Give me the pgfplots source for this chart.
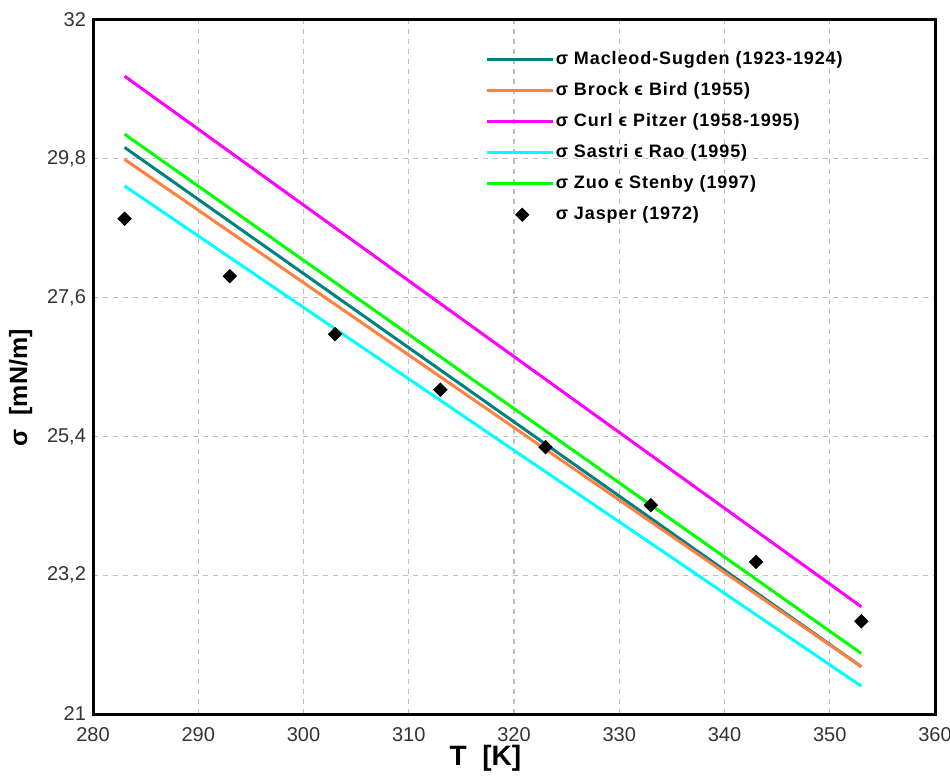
\documentclass[border=0pt]{standalone}
\usepackage{fontspec}
\setmainfont{Liberation Sans}
\usepackage{pgfplots}
\pgfplotsset{compat=1.18}

\definecolor{msteal}{RGB}{0,128,128}
\definecolor{bborange}{RGB}{255,128,64}
\definecolor{cpmagenta}{RGB}{255,0,255}
\definecolor{srcyan}{RGB}{0,255,255}
\definecolor{zsgreen}{RGB}{0,255,0}

\pgfplotsset{
  linelegend/.style={legend image code/.code={\draw[##1, line width=1.5pt] (0pt,0pt) -- (33pt,0pt);}},
  marklegend/.style={legend image code/.code={\path[draw=none, fill=none] (0pt,0pt) -- (33pt,0pt);
      \fill[black] (17.5pt,3.3pt) -- (20.8pt,0pt) -- (17.5pt,-3.3pt) -- (14.2pt,0pt) -- cycle;}},
}

\begin{document}
\begin{tikzpicture}
\begin{axis}[
  scale only axis, width=421pt, height=347pt,
  xmin=280, xmax=360, ymin=21, ymax=32,
  xtick={280,290,...,360},
  ytick={21,23.2,25.4,27.6,29.8,32},
  yticklabels={21,{23,2},{25,4},{27,6},{29,8},32},
  /pgf/number format/assume math mode=true,
  ticklabel style={font=\fontsize{10}{12}\selectfont, text=black!80},
  xticklabel style={yshift=-3pt},
  major tick length=0pt,
  axis line style={line width=1.5pt},
  grid=major,
  grid style={gray!50, dash pattern=on 2.5pt off 2.5pt, line width=0.6pt},
  xlabel={T~~[K]}, ylabel={σ~~[mN/m]},
  xlabel style={font=\bfseries\fontsize{14}{16}\selectfont, at={(axis description cs:0.466,-0.064)}, anchor=center},
  ylabel style={font=\bfseries\fontsize{12.5}{14}\selectfont, at={(axis description cs:-0.086,0.47)}, anchor=center},
  legend style={draw=none, fill=none, at={(axis description cs:0.466,0.957)}, anchor=north west,
    font=\bfseries\fontsize{9}{11}\selectfont\addfontfeatures{LetterSpace=5},
    row sep=6pt, inner sep=0pt,
    nodes={inner sep=0.5pt, text height=6.5pt, text depth=2pt}},
  legend cell align=left,
  linelegend,
]
\addplot[msteal, line width=1.5pt] coordinates {(283,29.98) (353,21.75)};
\addplot[bborange, line width=1.5pt] coordinates {(283,29.79) (353,21.75)};
\addplot[cpmagenta, line width=1.5pt] coordinates {(283,31.11) (353,22.70)};
\addplot[srcyan, line width=1.5pt] coordinates {(283,29.37) (353,21.44)};
\addplot[zsgreen, line width=1.5pt] coordinates {(283,30.19) (353,21.96)};
\addplot[only marks, mark=square*, mark size=2.35pt, mark options={rotate=45}, black, marklegend]
  coordinates {(283,28.85) (293,27.94) (303,27.02) (313,26.14) (323,25.23) (333,24.31) (343,23.41) (353,22.47)};
\legend{σ Macleod-Sugden (1923-1924), σ Brock ϵ Bird (1955), σ Curl ϵ Pitzer (1958-1995), σ Sastri ϵ Rao (1995), σ Zuo ϵ Stenby (1997), σ Jasper (1972)}
\end{axis}
\pgfresetboundingbox
\useasboundingbox ([xshift=-46.5pt,yshift=-33pt]current axis.south west) rectangle ([xshift=7.5pt,yshift=10pt]current axis.north east);
\end{tikzpicture}
\end{document}
